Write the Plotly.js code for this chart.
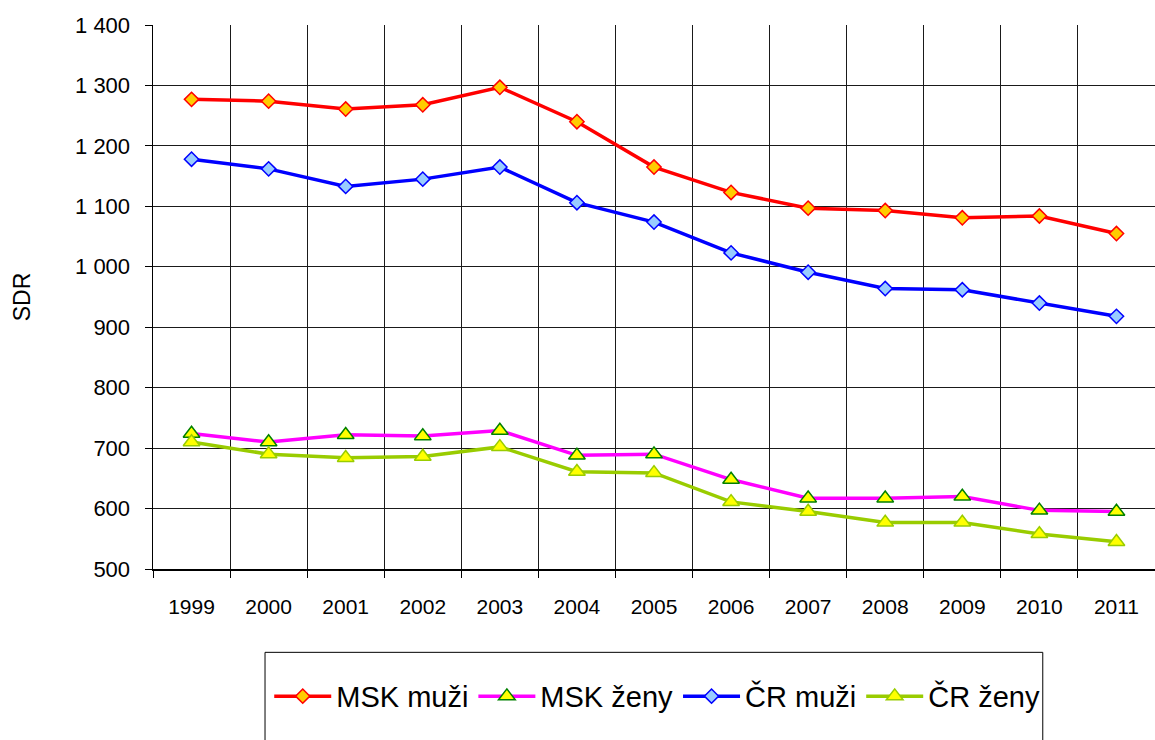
<!DOCTYPE html>
<html>
<head>
<meta charset="utf-8">
<script src="https://cdn.plot.ly/plotly-3.0.1.min.js"></script>
<style>html,body{margin:0;padding:0;background:#fff;}#chart{width:1155px;height:740px;}</style>
</head>
<body>
<div id="chart"></div>
<script>
var years = ['1999','2000','2001','2002','2003','2004','2005','2006','2007','2008','2009','2010','2011'];
var mskMuzi = [1277,1274,1261,1268,1297,1240,1165,1123,1097,1093,1081,1084,1055];
var mskZeny = [724,710,722,720,729,688,690,648,617,617,620,597,595];
var crMuzi  = [1178,1162,1133,1145,1165,1106,1074,1023,991,964,962,940,918];
var crZeny  = [710,690,684,686,702,661,659,611,595,577,577,558,545];
var seriesNames = ['MSK muži','MSK ženy','ČR muži','ČR ženy'];
var yTitle = 'SDR';

var FONT = '"Liberation Sans", Arial, sans-serif';

var traces = [
  {x: years, y: mskMuzi, name: seriesNames[0], type: 'scatter', mode: 'lines+markers',
   line: {color: '#FF0000', width: 3.5},
   marker: {symbol: 'diamond', size: 11, color: '#FFCC00', line: {color: '#FF0000', width: 1.5}}},
  {x: years, y: mskZeny, name: seriesNames[1], type: 'scatter', mode: 'lines+markers',
   line: {color: '#FF00FF', width: 3.5},
   marker: {symbol: 'triangle-up', size: 14.5, color: '#FFFF00', line: {color: '#008000', width: 1.5}}},
  {x: years, y: crMuzi, name: seriesNames[2], type: 'scatter', mode: 'lines+markers',
   line: {color: '#0000FF', width: 3.5},
   marker: {symbol: 'diamond', size: 11, color: '#99CCFF', line: {color: '#0000FF', width: 1.5}}},
  {x: years, y: crZeny, name: seriesNames[3], type: 'scatter', mode: 'lines+markers',
   line: {color: '#99CC00', width: 3.5},
   marker: {symbol: 'triangle-up', size: 14.5, color: '#FFFF00', line: {color: '#99CC00', width: 1.5}}}
];

var layout = {
  width: 1155, height: 740,
  margin: {l: 153, r: 0, t: 24.5, b: 170.5},
  paper_bgcolor: '#ffffff', plot_bgcolor: '#ffffff',
  separators: ', ',
  font: {family: FONT, color: '#000000', size: 20},
  showlegend: true,
  legend: {
    orientation: 'h', x: 0.116, xanchor: 'left', y: -0.234, yanchor: 'middle',
    font: {family: FONT, size: 29, color: '#000'},
    itemwidth: 57,
    bgcolor: 'rgba(0,0,0,0)', borderwidth: 0, itemclick: false
  },
  xaxis: {
    type: 'category', range: [-0.5, 12.5], autorange: false,
    tickson: 'boundaries', ticks: 'outside', ticklen: 7, tickcolor: '#000',
    showgrid: true, gridcolor: '#1a1a1a', gridwidth: 1,
    showline: true, linecolor: '#000', linewidth: 1.5,
    tickfont: {family: FONT, size: 21, color: '#000'},
    ticklabelstandoff: 18, fixedrange: true, zeroline: false
  },
  yaxis: {
    range: [500, 1400], autorange: false, dtick: 100, tick0: 500, tickformat: ',d',
    ticks: 'outside', ticklen: 7, tickcolor: '#000',
    showgrid: true, gridcolor: '#1a1a1a', gridwidth: 1,
    showline: true, linecolor: '#000', linewidth: 1.5,
    tickfont: {family: FONT, size: 22, color: '#000'},
    ticklabelstandoff: 10, zeroline: false, fixedrange: true,
    title: {text: yTitle, font: {family: FONT, size: 23, color: '#000'}, standoff: 38}
  },
  shapes: [{
    type: 'rect', xref: 'paper', yref: 'paper',
    x0: 0.1118, x1: 0.888, y0: -0.1532, y1: -0.40,
    line: {color: '#000', width: 1}, fillcolor: 'rgba(0,0,0,0)', layer: 'above'
  }]
};

Plotly.newPlot('chart', traces, layout, {displayModeBar: false, staticPlot: true});
</script>
</body>
</html>
